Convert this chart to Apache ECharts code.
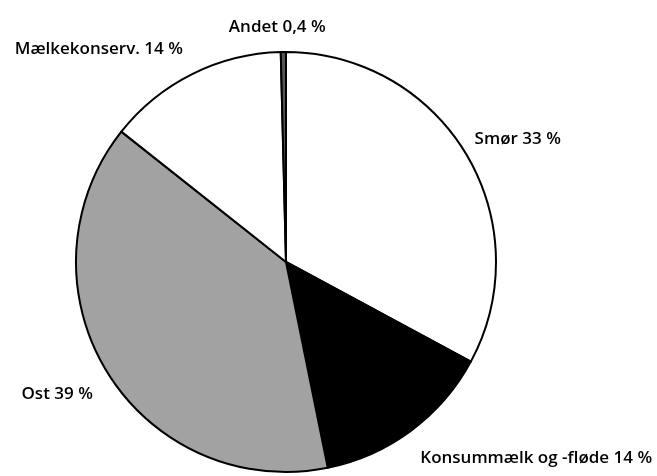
<!DOCTYPE html>
<html lang="da">
<head>
    <meta charset="UTF-8">
    <title>Mælkeanvendelse</title>
    <style>
        html, body { margin: 0; padding: 0; background: #fff; }
        #main { width: 657px; height: 476px; }
    </style>
</head>
<body>
    <div id="main"></div>
    <script src="https://cdn.jsdelivr.net/npm/echarts@6/dist/echarts.min.js"></script>
    <script>
        // data
        var names = ['Smør', 'Konsummælk og -fløde', 'Ost', 'Mælkekonserv.', 'Andet'];
        var values = [33, 14, 39, 14, 0.4];
        var valueText = ['33', '14', '39', '14', '0,4'];
        var colors = ['#ffffff', '#000000', '#a2a2a2', '#ffffff', '#555555'];

        // small label nudges (dx, dy) so the texts sit like the original
        var nudge = [[-7, -9], [-3, 18], [1, 16], [1, -14], [-1, -13]];

        var myChart = echarts.init(document.getElementById('main'));

        var pieData = [];
        for (var i = 0; i < names.length; i++) {
            pieData.push({
                name: names[i],
                value: values[i],
                itemStyle: { color: colors[i] }
            });
        }

        var option = {
            animation: false,
            series: [{
                type: 'pie',
                center: [286, 262],
                radius: 210,
                startAngle: 90,
                clockwise: true,
                avoidLabelOverlap: false,
                data: pieData,
                itemStyle: {
                    borderColor: '#000',
                    borderWidth: 2
                },
                label: {
                    show: true,
                    position: 'outside',
                    color: '#000',
                    fontFamily: 'Open Sans',
                    fontSize: 17,
                    fontWeight: 600,
                    formatter: function (p) {
                        return p.name + ' ' + valueText[p.dataIndex] + ' %';
                    }
                },
                labelLine: {
                    show: false,
                    length: 12,
                    length2: 0
                },
                labelLayout: function (p) {
                    var n = nudge[p.dataIndex];
                    if (p.dataIndex === 4) {
                        return { dx: n[0], dy: n[1], align: 'center' };
                    }
                    return { dx: n[0], dy: n[1] };
                },
                emphasis: { disabled: true }
            }]
        };
        myChart.setOption(option);
    </script>
</body>
</html>
